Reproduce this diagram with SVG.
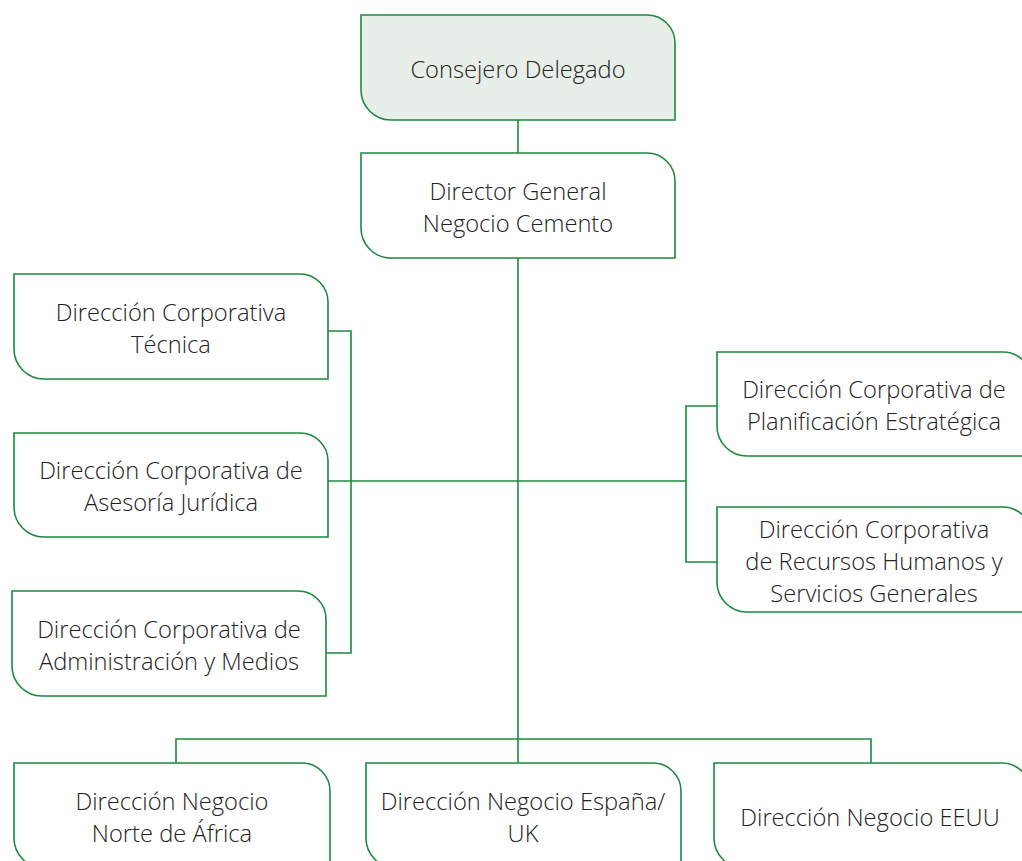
<svg xmlns="http://www.w3.org/2000/svg" width="1022" height="861" viewBox="0 0 1022 861">
<style>
.box{fill:#ffffff;stroke:#1b8a3d;stroke-width:1.6}
.top{fill:#e8efe8}
.con{fill:none;stroke:#1b8a3d;stroke-width:1.6}
text{font-family:"Open Sans","Liberation Sans",sans-serif;font-weight:300;font-size:23.7px;fill:#222222;text-anchor:middle}
</style>
<rect width="1022" height="861" fill="#ffffff"/>
<g id="connectors">
<path class="con" d="M518,120 V153"/>
<path class="con" d="M518,258 V739"/>
<path class="con" d="M328,331 H351 V653 H326"/>
<path class="con" d="M328,481 H686"/>
<path class="con" d="M717,406 H686 V562 H717"/>
<path class="con" d="M176,763 V739 H871 V763"/>
<path class="con" d="M518,739 V763"/>
</g>
<g id="n-consejero">
<path class="box top" d="M361,15 H647 A28,28 0 0 1 675,43 V120 H391 A30,30 0 0 1 361,90 Z"/>
<text x="518" y="78">Consejero Delegado</text>
</g>
<g id="n-director">
<path class="box" d="M361,153 H647 A28,28 0 0 1 675,181 V258 H391 A30,30 0 0 1 361,228 Z"/>
<text x="518" y="200">Director General</text>
<text x="518" y="232">Negocio Cemento</text>
</g>
<g id="n-tecnica">
<path class="box" d="M14,274 H300 A28,28 0 0 1 328,302 V379 H44 A30,30 0 0 1 14,349 Z"/>
<text x="171" y="321">Dirección Corporativa</text>
<text x="171" y="353">Técnica</text>
</g>
<g id="n-juridica">
<path class="box" d="M14,433 H300 A28,28 0 0 1 328,461 V537 H44 A30,30 0 0 1 14,507 Z"/>
<text x="171" y="479">Dirección Corporativa de</text>
<text x="171" y="511">Asesoría Jurídica</text>
</g>
<g id="n-administracion">
<path class="box" d="M12,591 H298 A28,28 0 0 1 326,619 V696 H42 A30,30 0 0 1 12,666 Z"/>
<text x="169" y="638">Dirección Corporativa de</text>
<text x="169" y="670">Administración y Medios</text>
</g>
<g id="n-planificacion">
<path class="box" d="M717,352 H1003 A28,28 0 0 1 1031,380 V456 H747 A30,30 0 0 1 717,426 Z"/>
<text x="874" y="398">Dirección Corporativa de</text>
<text x="874" y="430">Planificación Estratégica</text>
</g>
<g id="n-rrhh">
<path class="box" d="M717,507 H1003 A28,28 0 0 1 1031,535 V612 H747 A30,30 0 0 1 717,582 Z"/>
<text x="874" y="538">Dirección Corporativa</text>
<text x="874" y="570">de Recursos Humanos y</text>
<text x="874" y="602">Servicios Generales</text>
</g>
<g id="n-africa">
<path class="box" d="M14,763 H302 A28,28 0 0 1 330,791 V868 H44 A30,30 0 0 1 14,838 Z"/>
<text x="172" y="810">Dirección Negocio</text>
<text x="172" y="842">Norte de África</text>
</g>
<g id="n-espana">
<path class="box" d="M366,763 H653 A28,28 0 0 1 681,791 V868 H396 A30,30 0 0 1 366,838 Z"/>
<text x="523" y="810">Dirección Negocio España/</text>
<text x="523" y="842">UK</text>
</g>
<g id="n-eeuu">
<path class="box" d="M714,763 H1002 A28,28 0 0 1 1030,791 V868 H744 A30,30 0 0 1 714,838 Z"/>
<text x="870" y="826">Dirección Negocio EEUU</text>
</g>
</svg>
